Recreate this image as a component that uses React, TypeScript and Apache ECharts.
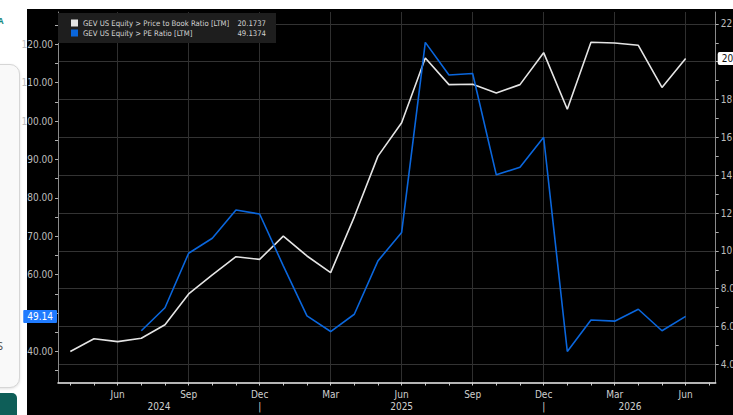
import React, { useEffect, useRef } from 'react';
import * as echarts from 'echarts';

const FONT = "'Liberation Sans Narrow','DejaVu Sans Condensed','Roboto Condensed','Arial Narrow',sans-serif";

// Monthly observations (YYYY-MM)
const pbMonths = [
  '2024-04', '2024-05', '2024-06', '2024-07', '2024-08', '2024-09', '2024-10', '2024-11', '2024-12',
  '2025-01', '2025-02', '2025-03', '2025-04', '2025-05', '2025-06', '2025-07', '2025-08', '2025-09',
  '2025-10', '2025-11', '2025-12', '2026-01', '2026-02', '2026-03', '2026-04', '2026-05', '2026-06',
];
const pbValues = [
  4.68, 5.35, 5.2, 5.38, 6.09, 7.72, 8.73, 9.69, 9.55,
  10.78, 9.73, 8.85, 11.8, 15.01, 16.77, 20.2, 18.79, 18.81,
  18.35, 18.79, 20.48, 17.49, 21.03, 20.99, 20.87, 18.64, 20.1737,
];
const peMonths = [
  '2024-07', '2024-08', '2024-09', '2024-10', '2024-11', '2024-12',
  '2025-01', '2025-02', '2025-03', '2025-04', '2025-05', '2025-06', '2025-07', '2025-08', '2025-09',
  '2025-10', '2025-11', '2025-12', '2026-01', '2026-02', '2026-03', '2026-04', '2026-05', '2026-06',
];
const peValues = [
  45.4, 51.4, 65.6, 69.5, 76.85, 75.8,
  62.3, 49.3, 45.2, 49.7, 63.6, 71.0, 120.5, 112.0, 112.4,
  86.0, 88.0, 95.8, 40.0, 48.2, 47.9, 51.0, 45.4, 49.1374,
];

const seriesNames = [
  'GEV US Equity > Price to Book Ratio [LTM]',
  'GEV US Equity > PE Ratio [LTM]',
];
const lastValues = [20.1737, 49.1374];
const lastLabels = ['20.17', '49.14'];
const monthNames = ['Jan', 'Feb', 'Mar', 'Apr', 'May', 'Jun', 'Jul', 'Aug', 'Sep', 'Oct', 'Nov', 'Dec'];
const quarterLabelMonths = ['2024-06', '2024-09', '2024-12', '2025-03', '2025-06', '2025-09', '2025-12', '2026-03', '2026-06'];
const monthTickMonths = [
  '2024-04', '2024-05', '2024-06', '2024-07', '2024-08', '2024-09', '2024-10', '2024-11', '2024-12',
  '2025-01', '2025-02', '2025-03', '2025-04', '2025-05', '2025-06', '2025-07', '2025-08', '2025-09',
  '2025-10', '2025-11', '2025-12', '2026-01', '2026-02', '2026-03', '2026-04', '2026-05', '2026-06', '2026-07',
];
const yearLabelPos = [7.75, 12, 18, 24, 27.65];
const yearLabelText = ['2024', '|', '2025', '|', '2026'];
const leftLabelValues = [40, 60, 70, 80, 90, 100, 110, 120];
const leftTickValues = [35, 40, 45, 50, 55, 60, 65, 70, 75, 80, 85, 90, 95, 100, 105, 110, 115, 120, 125];
const rightLabelValues = [4, 6, 8, 10, 12, 14, 16, 18, 22];
const rightTickValues = [4, 5, 6, 7, 8, 9, 10, 11, 12, 13, 14, 15, 16, 17, 18, 19, 20, 21, 22];

const toX = (s: string) => {
  const [y, m] = s.split('-').map(Number);
  return (y - 2024) * 12 + m;
};

const X_MIN = 3.48;
const X_MAX = 31.27;
const L_MIN = 31.93;
const L_MAX = 128.41;
const R_MIN = 3.04;
const R_MAX = 22.63;

const WHITE = '#e4e4e4';
const BLUE = '#0a66dc';
const LABEL = '#bdbdbd';

export default function App() {
  const ref = useRef<HTMLDivElement>(null);

  useEffect(() => {
    if (!ref.current) return;
    const chart = echarts.init(ref.current, null, { renderer: 'svg' });
    const option: any = {
      animation: false,
      backgroundColor: 'transparent',
      textStyle: { fontFamily: FONT },
      grid: { left: 58, right: 17.3, top: 12, bottom: 32.5, containLabel: false, outerBoundsMode: 'none' },
      legend: {
        left: 58,
        top: 13,
        orient: 'vertical',
        icon: 'rect',
        itemWidth: 7,
        itemHeight: 7,
        itemGap: 2,
        padding: [6, 10, 6, 13],
        backgroundColor: '#1e1e1e',
        selectedMode: false,
        data: seriesNames,
        formatter: (name: string) => {
          const i = seriesNames.indexOf(name);
          return `{n|${name}}{v|${lastValues[i].toFixed(4)}}`;
        },
        textStyle: {
          color: '#d4d4d4',
          fontSize: 7.7,
          fontFamily: FONT,
          rich: {
            n: { width: 152, color: '#d4d4d4', fontSize: 7.7, fontFamily: FONT, lineHeight: 11.7 },
            v: { width: 31, align: 'right', color: '#d4d4d4', fontSize: 7.7, fontFamily: FONT, lineHeight: 11.7 },
          },
        },
      },
      xAxis: [
        {
          type: 'value',
          min: X_MIN,
          max: X_MAX,
          minInterval: 3,
          maxInterval: 3,
          axisLine: { show: false },
          axisTick: { show: false },
          splitLine: { show: true, showMinLine: false, showMaxLine: false, lineStyle: { color: '#2f2f2f', width: 1 } },
          axisLabel: {
            customValues: quarterLabelMonths.map(toX),
            color: '#cfcfcf',
            fontSize: 10,
            fontFamily: FONT,
            margin: 7,
            formatter: (v: number) => monthNames[(Math.round(v) - 1) % 12],
          },
        },
        {
          type: 'value',
          position: 'bottom',
          min: X_MIN,
          max: X_MAX,
          axisLine: { show: true, lineStyle: { color: '#f0f0f0', width: 1.5 } },
          axisTick: { show: true, customValues: monthTickMonths.map(toX), length: 3, lineStyle: { color: '#d0d0d0' } },
          splitLine: { show: false },
          axisLabel: {
            customValues: yearLabelPos,
            color: '#cfcfcf',
            fontSize: 10,
            fontFamily: FONT,
            margin: 19,
            formatter: (v: number) => {
              let best = 0;
              yearLabelPos.forEach((p, i) => { if (Math.abs(p - v) < Math.abs(yearLabelPos[best] - v)) best = i; });
              return yearLabelText[best];
            },
          },
        },
      ],
      yAxis: [
        {
          type: 'value',
          position: 'left',
          min: L_MIN,
          max: L_MAX,
          axisLine: { show: true, lineStyle: { color: '#8a8a8a', width: 1 } },
          axisTick: { show: true, customValues: leftTickValues, length: 3, lineStyle: { color: '#b0b0b0' } },
          splitLine: { show: false },
          axisLabel: {
            customValues: leftLabelValues,
            color: LABEL,
            fontSize: 10,
            fontFamily: FONT,
            margin: 5,
            formatter: (v: number) => v.toFixed(2),
          },
        },
        {
          type: 'value',
          position: 'right',
          min: R_MIN,
          max: R_MAX,
          minInterval: 2,
          maxInterval: 2,
          axisLine: { show: true, lineStyle: { color: '#8a8a8a', width: 1 } },
          axisTick: { show: false },
          splitLine: { show: true, showMinLine: false, showMaxLine: false, lineStyle: { color: '#333333', width: 1 } },
          axisLabel: {
            customValues: rightLabelValues,
            color: LABEL,
            fontSize: 10,
            fontFamily: FONT,
            margin: 5,
            formatter: (v: number) => v.toFixed(2),
          },
        },
        {
          type: 'value',
          position: 'right',
          min: R_MIN,
          max: R_MAX,
          axisLine: { show: false },
          axisTick: { show: true, customValues: rightTickValues, length: 3, lineStyle: { color: '#b0b0b0' } },
          splitLine: { show: false },
          axisLabel: { show: false },
        },
      ],
      series: [
        {
          name: seriesNames[0],
          type: 'line',
          xAxisIndex: 0,
          yAxisIndex: 1,
          showSymbol: false,
          color: WHITE,
          lineStyle: { color: WHITE, width: 1.6 },
          data: pbMonths.map((m, i) => [toX(m), pbValues[i]]),
          markLine: {
            silent: true,
            symbol: ['none', 'none'],
            lineStyle: { color: 'rgba(0,0,0,0)', width: 0 },
            data: [{ yAxis: lastValues[0] }],
            label: {
              show: true,
              position: 'end',
              distance: 2,
              formatter: lastLabels[0],
              backgroundColor: '#ffffff',
              color: '#111111',
              fontSize: 10,
              fontFamily: FONT,
              padding: [2, 4, 1, 4],
              borderRadius: 2,
            },
          },
          z: 3,
        },
        {
          name: seriesNames[1],
          type: 'line',
          xAxisIndex: 0,
          yAxisIndex: 0,
          showSymbol: false,
          color: BLUE,
          lineStyle: { color: BLUE, width: 1.6 },
          data: peMonths.map((m, i) => [toX(m), peValues[i]]),
          markLine: {
            silent: true,
            symbol: ['none', 'none'],
            lineStyle: { color: 'rgba(0,0,0,0)', width: 0 },
            data: [{ yAxis: lastValues[1] }],
            label: {
              show: true,
              position: 'start',
              distance: 1,
              formatter: lastLabels[1],
              backgroundColor: '#1f7bff',
              color: '#ffffff',
              fontSize: 10,
              fontFamily: FONT,
              padding: [2, 4, 1, 4],
              borderRadius: 1,
            },
          },
          z: 4,
        },
      ],
    };
    chart.setOption(option);
    return () => chart.dispose();
  }, []);

  return (
    <div style={{ position: 'fixed', left: 0, top: 0, width: 733, height: 415, background: '#ffffff', overflow: 'hidden', fontFamily: "'Open Sans', sans-serif" }}>
      <div style={{ position: 'absolute', left: -2, top: 15, fontSize: 8, fontWeight: 700, color: '#1a8a80' }}>A</div>
      <div style={{ position: 'absolute', left: -12, top: 64, width: 30, height: 322, border: '1px solid #d6d6d6', borderRadius: 10, background: '#f9f9f9', boxShadow: '0 1px 3px rgba(0,0,0,0.12)' }} />
      <div style={{ position: 'absolute', left: -3, top: 338, fontSize: 11, color: '#444' }}>S</div>
      <div style={{ position: 'absolute', left: -6, top: 393, width: 23, height: 30, borderRadius: 5, background: '#0e5e58' }} />
      <div style={{ position: 'absolute', left: 27, top: 9, width: 706, height: 406, background: '#000000' }} />
      <div ref={ref} style={{ position: 'absolute', left: 0, top: 0, width: 733, height: 415 }} />
    </div>
  );
}
